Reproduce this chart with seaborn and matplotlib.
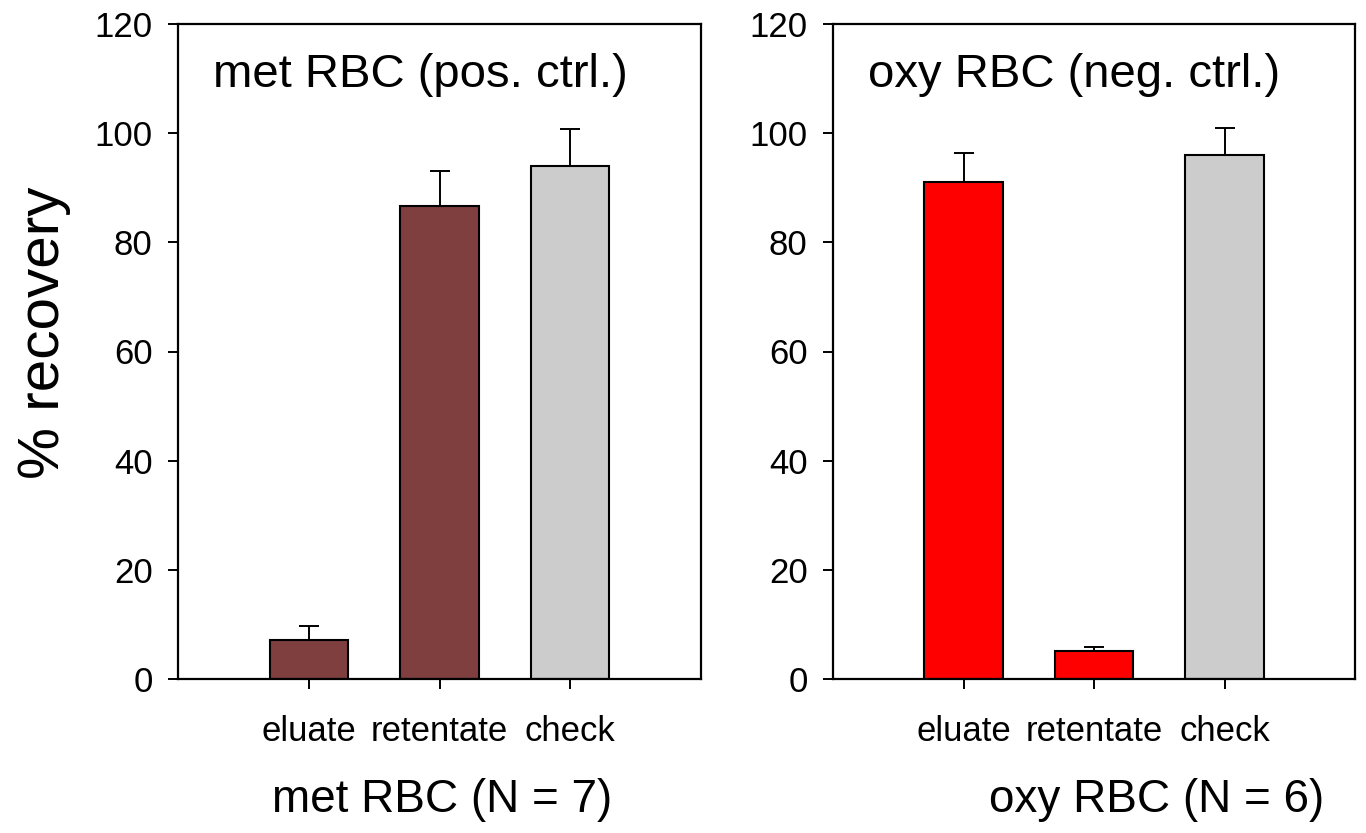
import matplotlib
matplotlib.use("Agg")
import matplotlib.pyplot as plt
import seaborn as sns
import pandas as pd
import numpy as np

categories = ["eluate", "retentate", "check"]
met_values = [7.1, 86.6, 94.0]
met_errors = [2.6, 6.5, 6.7]
oxy_values = [91.1, 5.1, 96.0]
oxy_errors = [5.3, 0.8, 4.9]
met_colors = ["#7f3f3f", "#7f3f3f", "#cccccc"]
oxy_colors = ["#ff0000", "#ff0000", "#cccccc"]
yticks = [0, 20, 40, 60, 80, 100, 120]

sns.set_theme(style="ticks")
plt.rcParams["font.family"] = ["Liberation Sans", "DejaVu Sans"]

fig = plt.figure(figsize=(13.66, 8.33), dpi=100)
ax1 = fig.add_axes([178 / 1366, 1 - 679 / 833, 523 / 1366, 655 / 833])
ax2 = fig.add_axes([833 / 1366, 1 - 679 / 833, 522 / 1366, 655 / 833])

panels = [
    (ax1, met_values, met_errors, met_colors, "met RBC (pos. ctrl.)"),
    (ax2, oxy_values, oxy_errors, oxy_colors, "oxy RBC (neg. ctrl.)"),
]

for ax, vals, errs, cols, title in panels:
    df = pd.DataFrame({"cat": categories, "val": vals})
    sns.barplot(data=df, x="cat", y="val", hue="cat", palette=cols,
                saturation=1, width=0.6, edgecolor="black", linewidth=1.5,
                legend=False, ax=ax, errorbar=None)
    xpos = np.arange(len(categories))
    ax.errorbar(xpos, vals, yerr=[np.zeros(len(errs)), errs], fmt="none",
                ecolor="black", elinewidth=1.4, capsize=7, capthick=1.4, zorder=3)
    ax.set_xlim(-1, 3)
    ax.set_ylim(0, 120)
    ax.set_yticks(yticks)
    ax.set_xlabel("")
    ax.set_ylabel("")
    for s in ax.spines.values():
        s.set_visible(True)
        s.set_linewidth(1.6)
        s.set_color("black")
    ax.tick_params(axis="both", direction="out", length=7.2, width=1.4,
                   color="black", labelsize=25, labelcolor="black")
    ax.tick_params(axis="y", pad=11)
    ax.tick_params(axis="x", pad=19)
    ax.text(0.067, 0.922, title, transform=ax.transAxes, fontsize=34,
            ha="left", va="center", color="black")
    ax.set_facecolor("white")

fig.text(44 / 1366, 0.600, "% recovery", rotation=90, fontsize=42,
         ha="center", va="center", color="black")
fig.text(442 / 1366, 1 - 800 / 833, "met RBC (N = 7)", fontsize=33,
         ha="center", va="center", color="black")
fig.text(1157 / 1366, 1 - 800 / 833, "oxy RBC (N = 6)", fontsize=33,
         ha="center", va="center", color="black")

fig.savefig("out.png", dpi=100, facecolor="white")
